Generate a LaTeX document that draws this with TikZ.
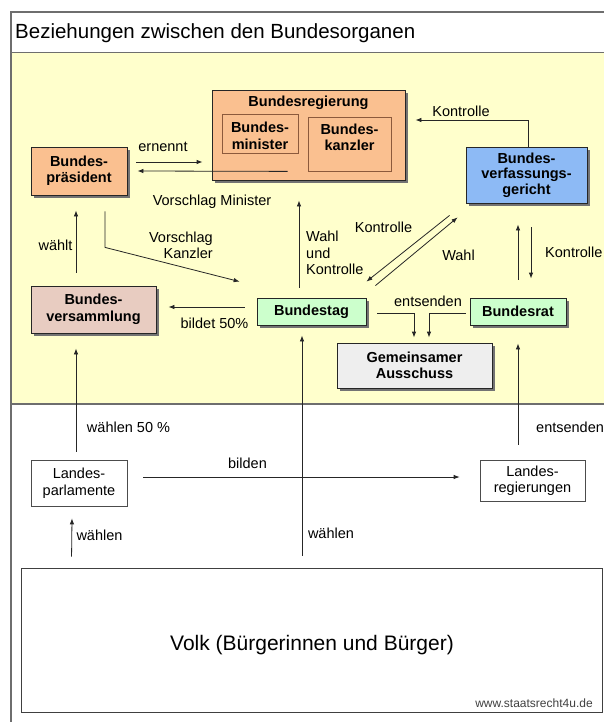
\documentclass[tikz,border=0pt]{standalone}
\usepackage{fontspec}
\setmainfont{Liberation Sans}
\usetikzlibrary{arrows.meta,calc,shadows}

\definecolor{bgyellow}{RGB}{255,255,204}
\definecolor{orangefill}{RGB}{250,192,144}
\definecolor{bluefill}{RGB}{141,186,245}
\definecolor{pinkfill}{RGB}{232,204,193}
\definecolor{greenfill}{RGB}{204,255,204}
\definecolor{grayfill}{RGB}{238,238,238}
\definecolor{framegray}{RGB}{110,110,110}
\definecolor{innerborder}{RGB}{140,90,60}

\tikzset{
  organ/.style={draw=black!85, line width=0.8pt, font=\fontsize{14.5}{16.5}\selectfont\bfseries,
    align=center, inner sep=0pt,
    drop shadow={shadow xshift=3pt, shadow yshift=-3pt, fill=black!55, opacity=1}},
  innerbox/.style={draw=innerborder, line width=0.8pt, inner sep=0pt},
  boldtxt/.style={font=\fontsize{14.5}{16.5}\selectfont\bfseries, align=center, inner sep=0pt},
  plainbox/.style={draw=black!70, line width=0.7pt, fill=white,
    font=\fontsize{14.5}{16.5}\selectfont, align=center, inner sep=0pt},
  lbl/.style={font=\fontsize{14.5}{16.5}\selectfont, align=left, inner sep=0pt},
  arr/.style={draw=black!85, line width=0.8pt, -{Latex[length=6pt,width=4.5pt]}},
}

\begin{document}
\begin{tikzpicture}[x=1pt,y=-1pt]
\useasboundingbox (0,0) rectangle (604,722);
\fill[white] (0,0) rectangle (604,722);
\fill[bgyellow] (11,53) rectangle (608,404);
\draw[framegray, line width=1.6pt] (11,12) rectangle (610,728);
\draw[framegray, line width=1pt] (11,53) -- (608,53);
\draw[framegray, line width=1.8pt] (11,404) -- (608,404);
\node[anchor=base west, inner sep=0pt, font=\fontsize{20.5}{24}\selectfont] (title) at (15,39) {Beziehungen zwischen den Bundesorganen};

% organs
\node[organ, fill=orangefill, minimum width=193pt, minimum height=90pt] (breg) at (308.5,135) {};
\node[boldtxt] (bregt) at (308.5,103) {Bundesregierung};
\node[innerbox, fill=orangefill, minimum width=76pt, minimum height=39pt] (bmin) at (260,133.5) {};
\node[boldtxt] (bmint) at (260,136) {Bundes-\\minister};
\node[innerbox, fill=orangefill, minimum width=83pt, minimum height=54pt] (bkan) at (349.5,144) {};
\node[boldtxt] (bkant) at (349.5,137.5) {Bundes-\\kanzler};

\node[organ, fill=orangefill, minimum width=96pt, minimum height=48pt] (bpra) at (79,171) {Bundes-\\präsident};
\node[organ, fill=bluefill, minimum width=121pt, minimum height=56pt, font=\fontsize{14.5}{15.5}\selectfont\bfseries] (bvg) at (526.5,175) {Bundes-\\verfassungs-\\gericht};
\node[organ, fill=pinkfill, minimum width=125pt, minimum height=47pt] (bver) at (93.5,309.5) {Bundes-\\versammlung};
\node[organ, fill=greenfill, minimum width=109pt, minimum height=27pt] (btag) at (311.5,311.5) {Bundestag};
\node[organ, fill=greenfill, minimum width=96pt, minimum height=27pt] (brat) at (518,311.5) {Bundesrat};
\node[organ, fill=grayfill, minimum width=155pt, minimum height=45pt] (gem) at (414.5,365.5) {Gemeinsamer\\Ausschuss};

\node[plainbox, minimum width=96pt, minimum height=46pt] (lp) at (79,483) {Landes-\\parlamente};
\node[plainbox, minimum width=105pt, minimum height=41pt] (lr) at (532.5,480.5) {Landes-\\regierungen};

\node[draw=black!75, line width=0.9pt, fill=white, minimum width=581pt, minimum height=144pt, inner sep=0pt] (volk) at (311.5,640) {};
\node[inner sep=0pt, font=\fontsize{21}{24}\selectfont] (volkt) at (312,645) {Volk (Bürgerinnen und Bürger)};
\node[inner sep=0pt, font=\fontsize{12}{14}\selectfont, text=black!75] (www) at (534,703) {www.staatsrecht4u.de};

% connectors
\draw[arr] ($(bpra.east)+(9,-9)$) -- ($(breg.west)+(-9,27)$);
\draw[arr] ($(breg.south west)+(76,-9)$) -- ($(bpra.east)+(10,0)$);
\draw[arr] ($(bpra.south)+(26,16)$) -- ($(bpra.south)+(26,52)$) -- ($(btag.north west)+(-17,-16)$);
\draw[arr] ($(bver.north)+(-17.5,-13)$) -- ($(bpra.south)+(-3,15)$);
\draw[arr] ($(btag.west)+(-12,-4.5)$) -- ($(bver.east)+(12,-2.5)$);
\draw[arr] ($(lp.north)+(-3,-8)$) -- ($(bver.south)+(-17.5,15)$);
\draw[arr] ($(btag.north)+(-12.5,-10)$) -- ($(breg.south)+(-9.5,20)$);
\draw[arr] ($(bvg.south west)+(-16,12)$) -- ($(btag.north east)+(0,-16)$);
\draw[arr] ($(btag.north east)+(9,-12)$) -- ($(bvg.south west)+(-8,14)$);
\draw[arr] ($(bvg.north)+(1.5,0)$) |- ($(breg.east)+(10,-15)$);
\draw[arr] ($(brat.north)+(0,-18)$) -- ($(bvg.south)+(-8.5,21)$);
\draw[arr] ($(bvg.south)+(4.5,24)$) -- ($(brat.north)+(13,-19)$);
\draw[arr] ($(btag.east)+(11,1.5)$) -| ($(gem.north)+(-0.5,-5)$);
\draw[arr] ($(brat.west)+(-4,1.5)$) -| ($(gem.north)+(14.5,-5)$);
\draw[arr] ($(volk.north)+(-9.5,-12)$) -- ($(btag.south)+(-9.5,10)$);
\draw[arr] ($(lr.north)+(-14.5,-15)$) -- ($(brat.south)+(0,18)$);
\draw[arr] ($(lp.east)+(16,-6)$) -- ($(lr.west)+(-20,-3.5)$);
\draw[arr] ($(volk.north west)+(51,-11)$) -- ($(lp.south)+(-7,12)$);

% labels
\node[lbl] (l_ern) at (163,147) {ernennt};
\node[lbl] (l_vm) at (212,202) {Vorschlag Minister};
\node[lbl, align=right, anchor=east] (l_vk) at (213,245.5) {Vorschlag\\Kanzler};
\node[lbl] (l_wt) at (55.5,245) {wählt};
\node[lbl] (l_b50) at (214.5,323) {bildet 50\%};
\node[lbl, anchor=west] (l_wuk) at (306,253) {Wahl\\und\\Kontrolle};
\node[lbl] (l_k1) at (383.5,227) {Kontrolle};
\node[lbl] (l_wahl) at (458.5,255) {Wahl};
\node[lbl] (l_k2) at (461,111) {Kontrolle};
\node[lbl, anchor=west] (l_k3) at (545,252) {Kontrolle};
\node[lbl] (l_ent) at (428,301) {entsenden};
\node[lbl] (l_w50) at (128.5,427) {wählen 50 \%};
\node[lbl] (l_bil) at (247.5,463) {bilden};
\node[lbl] (l_wae) at (331,533) {wählen};
\node[lbl] (l_wae2) at (99.5,535) {wählen};
\node[lbl, anchor=west] (l_ent2) at (536,427) {entsenden};
\end{tikzpicture}
\end{document}
